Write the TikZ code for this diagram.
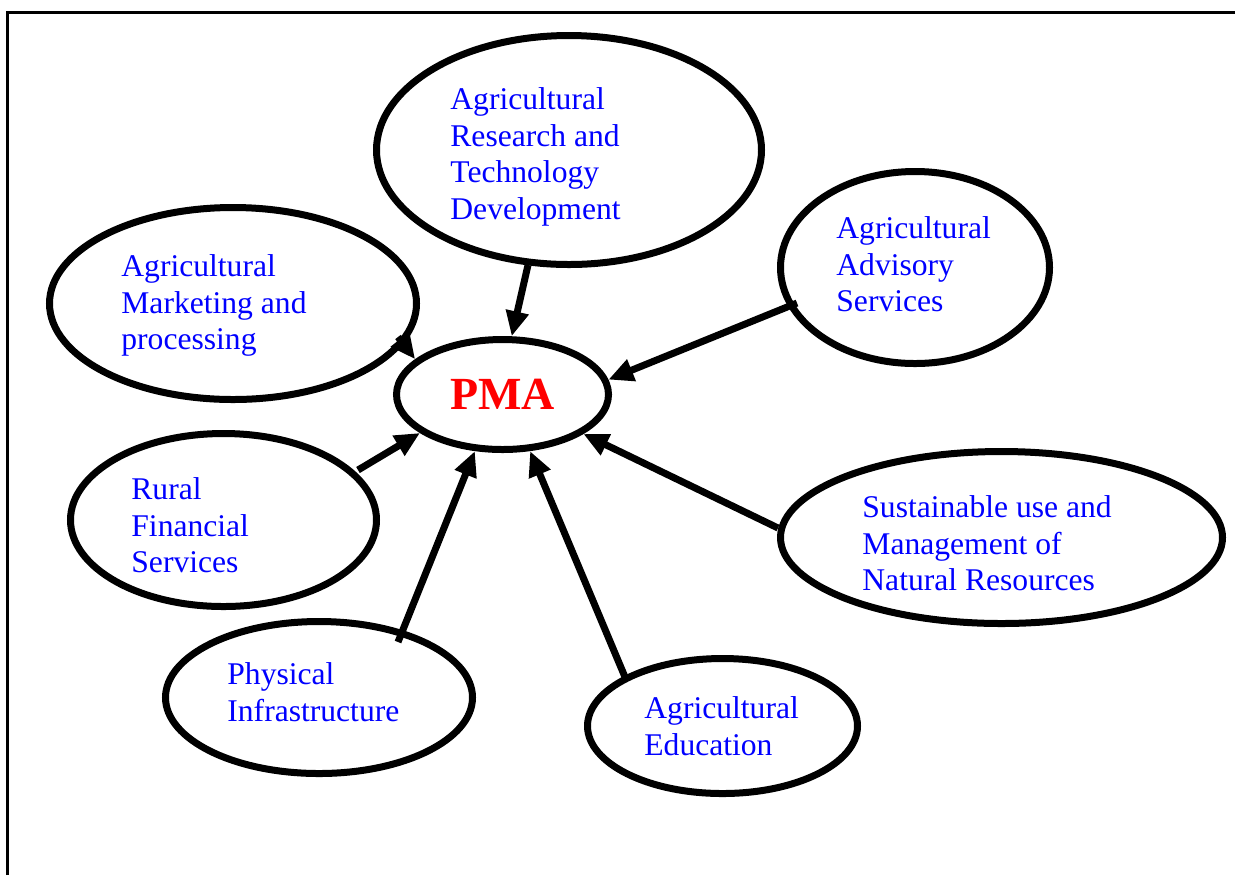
\documentclass[tikz,border=0pt]{standalone}
\usepackage{fontspec}
\setmainfont{Liberation Serif}
\usetikzlibrary{arrows.meta,shapes.geometric}
\definecolor{pmaText}{RGB}{0,0,255}
\definecolor{pmaCore}{RGB}{255,0,0}

\begin{document}
\begin{tikzpicture}[x=0.5pt,y=-0.5pt,
    oval/.style={draw,ellipse,line width=3.5pt,inner sep=0pt},
    ovaltext/.style={anchor=north west,inner sep=0pt,align=left,text=pmaText,
      font=\fontsize{15.8pt}{18.4pt}\selectfont},
    feed/.style={line width=3.5pt,-{Triangle[length=12.5pt,width=11pt]}}]
    \useasboundingbox (0,0) rectangle (1235,875);
    \draw[line width=1.5pt] (7,875) -- (7,12) -- (1235,12);
    % the ovals
    \node[oval,minimum width=192.5pt,minimum height=114.5pt] (research) at (569,150) {};
    \node[oval,minimum width=183.5pt,minimum height=96pt] (market) at (233,303.5) {};
    \node[oval,minimum width=134.5pt,minimum height=96pt] (advisory) at (915,267.5) {};
    \node[oval,minimum width=153pt,minimum height=86.5pt] (rural) at (223.5,520) {};
    \node[oval,minimum width=221pt,minimum height=86pt] (natres) at (1001.5,537.5) {};
    \node[oval,minimum width=153.5pt,minimum height=76pt] (infra) at (319,697.5) {};
    \node[oval,minimum width=135pt,minimum height=67.5pt] (educ) at (722.5,726) {};
    \node[oval,minimum width=106pt,minimum height=55pt,text=pmaCore,
      font=\fontsize{23pt}{27pt}\selectfont\bfseries] (pma) at (502.5,394.5) {PMA};
    % their texts
    \node[ovaltext] (researchText) at (450,87) {Agricultural\\Research and\\Technology\\Development};
    \node[ovaltext] (marketText) at (121,254) {Agricultural\\Marketing and\\processing};
    \node[ovaltext] (advisoryText) at (836,216) {Agricultural\\Advisory\\Services};
    \node[ovaltext] (ruralText) at (131,477) {Rural\\Financial\\Services};
    \node[ovaltext] (natresText) at (862,495) {Sustainable use and\\Management of\\Natural Resources};
    \node[ovaltext] (infraText) at (227,662) {Physical\\Infrastructure};
    \node[ovaltext] (educText) at (644,696) {Agricultural\\Education};
    % arrows into PMA
    \coordinate (researchFoot) at (528,265);
    \coordinate (marketFoot) at (398,337);
    \coordinate (advisoryFoot) at (797,303);
    \coordinate (ruralFoot) at (358,470);
    \coordinate (natresFoot) at (778,528);
    \coordinate (infraFoot) at (398,642);
    \coordinate (educFoot) at (625,677);
    \foreach \src/\ang in {researchFoot/81,marketFoot/158,advisoryFoot/8.5,
                           ruralFoot/205.5,natresFoot/334.7,infraFoot/244,educFoot/296.6}
      {\draw[feed] (\src) -- (pma.\ang);}
\end{tikzpicture}
\end{document}
